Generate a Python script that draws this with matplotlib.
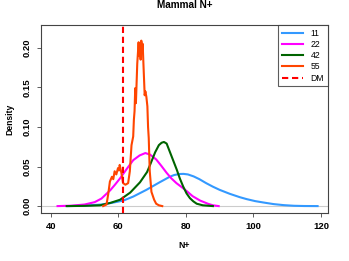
#!/usr/bin/env python3
"""Density of N+ for mammal groups, with the DM reference value."""
import matplotlib
matplotlib.use('Agg')
import matplotlib.pyplot as plt

# ── Data ──────────────────────────────────────────────────────────────────
N11_X = [45, 50, 55, 58, 61.5, 64.4, 68.3, 72.2, 75.2, 76.5, 78, 79.3, 80.6,
         82.3, 84, 86, 88, 90, 93, 96, 98, 100.5, 103, 106, 109, 112, 115, 119]
N11_Y = [0, 0.0005, 0.002, 0.004, 0.007, 0.012, 0.0205, 0.030, 0.037, 0.0392,
         0.0405, 0.0407, 0.040, 0.0375, 0.034, 0.029, 0.0245, 0.0205, 0.0155,
         0.0112, 0.0088, 0.0063, 0.0045, 0.0025, 0.0012, 0.0004, 0.0001, 0]

N22_X = [42, 46, 50, 53, 55, 57.6, 59, 60.5, 62.5, 64.4, 66.3, 68, 69.4, 71.2,
         72.7, 74.3, 75.7, 77.2, 79.2, 80.5, 82, 84.2, 86.5, 88, 89.7]
N22_Y = [0, 0.0005, 0.002, 0.005, 0.0095, 0.020, 0.027, 0.035, 0.047, 0.058,
         0.064, 0.067, 0.065, 0.059, 0.051, 0.042, 0.035, 0.029, 0.0225, 0.018,
         0.0125, 0.007, 0.003, 0.001, 0]

N42_X = [44.7, 50, 54.6, 57.6, 60.5, 63.5, 66.4, 68.5, 69.3, 70.9, 72, 72.8,
         73.5, 74.3, 75.3, 76.3, 77.3, 78.2, 79.2, 80.2, 81.2, 82.2, 83.2, 85, 88]
N42_Y = [0, 0.0003, 0.001, 0.004, 0.008, 0.017, 0.030, 0.043, 0.051, 0.068,
         0.077, 0.080, 0.081, 0.079, 0.068, 0.057, 0.046, 0.035, 0.0247, 0.016,
         0.010, 0.006, 0.003, 0.001, 0]

N55_X = [55.5, 56.5, 57, 57.5, 58.1, 58.5, 58.9, 59.4, 59.9, 60.2, 60.4, 60.9,
         61.4, 62.1, 62.9, 63.4, 63.9, 64.4, 64.6, 64.8, 65.0, 65.2, 65.6, 66.0,
         66.2, 66.4, 66.6, 66.8, 67.0, 67.2, 67.5, 67.8, 68.0, 68.3, 68.6, 68.8,
         69.0, 69.3, 69.8, 70.6, 71.2, 72, 73]
N55_Y = [0, 0.002, 0.015, 0.031, 0.037, 0.034, 0.044, 0.040, 0.048, 0.045,
         0.052, 0.042, 0.029, 0.027, 0.029, 0.044, 0.077, 0.088, 0.109, 0.120,
         0.149, 0.130, 0.180, 0.207, 0.190, 0.197, 0.185, 0.209, 0.195, 0.205,
         0.172, 0.140, 0.145, 0.138, 0.126, 0.100, 0.086, 0.044, 0.018, 0.008,
         0.003, 0.001, 0]

DM = 61.3

SERIES = [
    ('11', N11_X, N11_Y, '#3399FF'),
    ('22', N22_X, N22_Y, '#FF00FF'),
    ('42', N42_X, N42_Y, '#006400'),
    ('55', N55_X, N55_Y, '#FF4500'),
]

X_TICKS = [40, 60, 80, 100, 120]
Y_TICKS = [0.00, 0.05, 0.10, 0.15, 0.20]


def main():
    plt.rcParams['font.family'] = ['Liberation Sans', 'DejaVu Sans']

    fig = plt.figure(figsize=(3.49, 2.61), dpi=100)
    ax = fig.add_axes([0.1175, 0.184, 0.8225, 0.72])

    ax.axhline(0, color='#cccccc', linewidth=0.8, zorder=1)
    for name, xs, ys, col in SERIES:
        ax.plot(xs, ys, color=col, linewidth=1.5, label=name, zorder=2)
    ax.axvline(DM, color='red', linewidth=1.5, linestyle=(0, (3, 1.8)),
               label='DM', zorder=3)

    ax.set_xlim(37.1, 122.1)
    ax.set_ylim(-0.0087, 0.2287)
    ax.set_xticks(X_TICKS)
    ax.set_yticks(Y_TICKS)
    ax.set_xticklabels([str(v) for v in X_TICKS], fontsize=6.8, fontweight='bold')
    ax.set_yticklabels([f'{v:.2f}' for v in Y_TICKS], fontsize=6.8,
                       fontweight='bold', rotation=90, va='center')
    ax.tick_params(direction='out', length=3, width=0.6, color='#444444',
                   pad=3.5)

    for sp in ax.spines.values():
        sp.set_color('#444444')
        sp.set_linewidth(0.8)

    ax.set_title('Mammal N+', fontsize=7.2, fontweight='bold', pad=12)
    ax.set_xlabel('N+', fontsize=6.2, fontweight='bold', labelpad=7)
    ax.set_ylabel('Density', fontsize=6.2, fontweight='bold', labelpad=6)

    leg = ax.legend(loc='upper right', fontsize=6.2, frameon=True, fancybox=False,
                    borderaxespad=0, handlelength=2.4, handletextpad=0.9,
                    labelspacing=0.25, borderpad=0.45)
    leg.get_frame().set_edgecolor('#333333')
    leg.get_frame().set_linewidth(0.8)

    fig.savefig('out.png', dpi=100)
    plt.close(fig)


if __name__ == '__main__':
    main()
